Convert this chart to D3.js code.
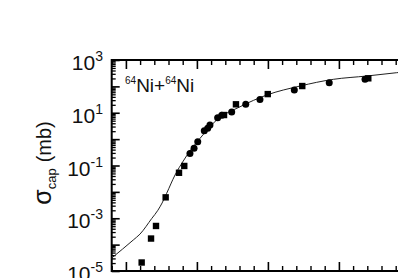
<!DOCTYPE html>
<html>
<head>
<meta charset="utf-8">
<script src="https://cdn.jsdelivr.net/npm/d3@7"></script>
<style>
  body { margin: 0; background: #fff; }
  svg { display: block; font-family: "Liberation Sans", Arial, sans-serif; }
</style>
</head>
<body>
<div class="chart"></div>
<script>
// measured points (E in MeV, sigma in mb)
const squareE = [86.11, 86.77, 87.12, 87.80, 88.74, 89.11, 91.91, 92.75, 94.99, 97.42, 102.07]
const squareSigma = [2.1e-5, 1.7e-4, 5.1e-4, 6.2e-3, 0.053, 0.096, 8.2, 20.9, 51, 103, 202]
const circleE = [89.51, 89.80, 90.06, 90.52, 90.76, 90.92, 91.46, 91.75, 92.45, 93.44, 94.44, 96.86, 99.32, 101.84]
const circleSigma = [0.285, 0.45, 0.80, 2.08, 2.57, 3.43, 6.5, 8.0, 10.7, 20.9, 32, 73, 138, 185]
// calculated curve
const calcE = [84.0, 85.52, 85.99, 86.82, 87.25, 87.55, 87.87, 88.46, 89.04, 89.51, 90.22, 91.39, 93.04, 94.92, 97.26, 99.61, 101.96, 104.07, 105]
const calcSigma = [3.1e-5, 1.5e-4, 2.5e-4, 9.8e-4, 2.0e-3, 3.8e-3, 8.8e-3, 0.0436, 0.148, 0.355, 1.07, 5.3, 16.9, 47, 103, 185, 247, 330, 370]
// y tick labels (exponents)
const yLabelExp = [3, 1, -1, -3, -5]

let width = 398
let height = 278

let svg = d3.select(".chart")
    .append("svg")
    .attr("width", width)
    .attr("height", height)

let xScale = d3.scaleLinear()
    .domain([84, 105])
    .range([111.7, 409.9])

let yScale = d3.scaleLog()
    .domain([1e-5, 1e3])
    .range([271, 60])

let majorX = d3.range(85, 106, 5)
let minorX = d3.range(84, 106, 1).filter(v => v % 5 != 0)
let majorY = d3.range(-5, 4).map(e => Math.pow(10, e))
let minorY = []
d3.range(-5, 3).forEach(e => {
    d3.range(2, 10).forEach(m => minorY.push(m * Math.pow(10, e)))
})

// Axes (ticks pointing inward)
function styleAxis(g, w) {
    g.selectAll("line").attr("stroke", "#000").attr("stroke-width", w)
    g.selectAll("text").remove()
    g.select(".domain").remove()
}

svg.append("g").attr("transform", "translate(0,271)")
    .call(d3.axisBottom(xScale).tickValues(majorX).tickSize(-9))
    .call(g => styleAxis(g, 1.6))
svg.append("g").attr("transform", "translate(0,271)")
    .call(d3.axisBottom(xScale).tickValues(minorX).tickSize(-5))
    .call(g => styleAxis(g, 1.4))
svg.append("g").attr("transform", "translate(0,60)")
    .call(d3.axisTop(xScale).tickValues(majorX).tickSize(-9))
    .call(g => styleAxis(g, 1.6))
svg.append("g").attr("transform", "translate(0,60)")
    .call(d3.axisTop(xScale).tickValues(minorX).tickSize(-5))
    .call(g => styleAxis(g, 1.4))
svg.append("g").attr("transform", "translate(111.7,0)")
    .call(d3.axisLeft(yScale).tickValues(majorY).tickSize(-8))
    .call(g => styleAxis(g, 1.6))
svg.append("g").attr("transform", "translate(111.7,0)")
    .call(d3.axisLeft(yScale).tickValues(minorY).tickSize(-4))
    .call(g => styleAxis(g, 1.3))

// frame lines
svg.append("path")
    .attr("d", `M${width + 5},60H111.7V271H${width + 5}`)
    .attr("fill", "none")
    .attr("stroke", "#000")
    .attr("stroke-width", 2)

// Y tick labels
svg.append("g")
    .selectAll("text")
    .data(yLabelExp)
    .enter()
    .append("text")
    .attr("x", 103)
    .attr("y", d => yScale(Math.pow(10, d)) + 10)
    .attr("text-anchor", "end")
    .attr("font-size", 21)
    .attr("fill", "#111")
    .each(function(d) {
        let t = d3.select(this)
        t.append("tspan").text("10")
        t.append("tspan").attr("dy", -9).attr("font-size", 14).text(d)
    })

// Y title
let title = svg.append("text")
    .attr("transform", "translate(51,163) rotate(-90)")
    .attr("text-anchor", "middle")
    .attr("fill", "#111")
title.append("tspan").attr("font-size", 25).text("σ")
title.append("tspan").attr("font-size", 13).attr("dy", 5).text("cap")
title.append("tspan").attr("font-size", 20).attr("dy", -5).attr("dx", 6).text("(mb)")

// reaction label
let lab = svg.append("text")
    .attr("x", 125)
    .attr("y", 92)
    .attr("fill", "#111")
lab.append("tspan").attr("font-size", 10).attr("dy", -8).text("64")
lab.append("tspan").attr("font-size", 19).attr("dy", 8).text("Ni+")
lab.append("tspan").attr("font-size", 10).attr("dy", -8).text("64")
lab.append("tspan").attr("font-size", 19).attr("dy", 8).text("Ni")

// Curve
let calc = calcE.map((e, i) => ({e: e, s: calcSigma[i]}))
svg.append("path")
    .datum(calc)
    .attr("fill", "none")
    .attr("stroke", "#222")
    .attr("stroke-width", 1)
    .attr("d", d3.line()
        .x(d => xScale(d.e))
        .y(d => yScale(d.s))
        .curve(d3.curveMonotoneX))

// Points
let squares = squareE.map((e, i) => ({e: e, s: squareSigma[i]}))
let circles = circleE.map((e, i) => ({e: e, s: circleSigma[i]}))

svg.append("g")
    .selectAll("rect")
    .data(squares)
    .enter()
    .append("rect")
    .attr("x", d => xScale(d.e) - 3.2)
    .attr("y", d => yScale(d.s) - 3.2)
    .attr("width", 6.4)
    .attr("height", 6.4)
    .attr("fill", "#000")

svg.append("g")
    .selectAll("circle")
    .data(circles)
    .enter()
    .append("circle")
    .attr("cx", d => xScale(d.e))
    .attr("cy", d => yScale(d.s))
    .attr("r", 3.5)
    .attr("fill", "#000")
</script>
</body>
</html>
